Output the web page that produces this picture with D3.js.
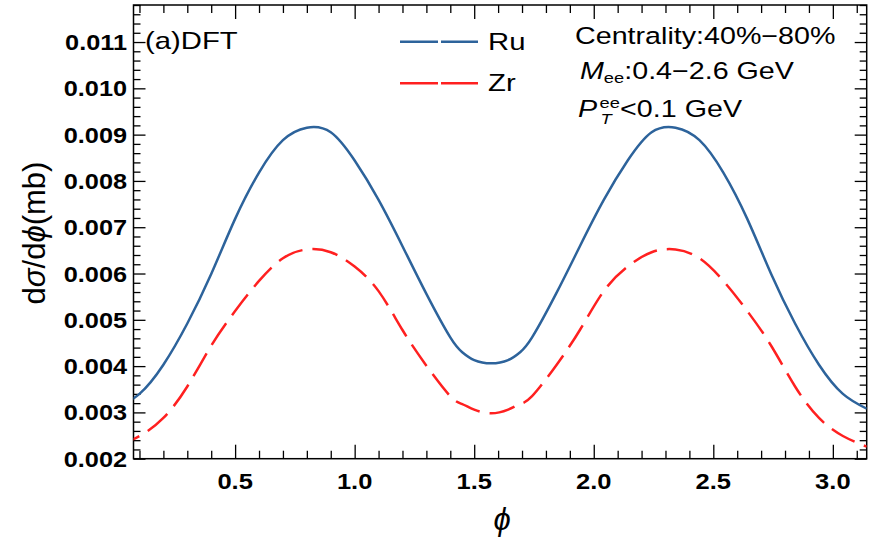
<!DOCTYPE html>
<html>
<head>
<meta charset="utf-8">
<title></title>
<style>
	body{ margin:0; background:#fff; }
	svg{ display:block; }
	.ticks line{ stroke:#000; stroke-width:1.3px; }
	.ticks path{ display:none; }
	.lbl{ font-family:"Liberation Sans", Arial, Helvetica, sans-serif; fill:#000; }
</style>
</head>
<body>
<svg width="877" height="541"></svg>
<script src="https://d3js.org/d3.v7.min.js"></script>
<script type="text/javascript">

	// values
	var phi = [0, 0.1, 0.2, 0.3, 0.4, 0.5, 0.6, 0.7, 0.8, 0.9, 1.0, 1.1, 1.2, 1.3, 1.4, 1.45, 1.5, 1.571,
		1.642, 1.692, 1.742, 1.842, 1.942, 2.042, 2.142, 2.242, 2.342, 2.442, 2.542, 2.642, 2.742,
		2.842, 2.942, 3.042, 3.142];
	var ru = [0.00308, 0.00340, 0.00403, 0.00492, 0.00599, 0.00718, 0.00818, 0.00888, 0.00915, 0.00905,
		0.00844, 0.00759, 0.00659, 0.00556, 0.00462, 0.00430, 0.00413, 0.00406,
		0.00413, 0.00430, 0.00462, 0.00556, 0.00659, 0.00759, 0.00844, 0.00905, 0.00915, 0.00888,
		0.00818, 0.00718, 0.00599, 0.00492, 0.00403, 0.00340, 0.00308];
	var zr = [0.00226, 0.00249, 0.00288, 0.00356, 0.00444, 0.00519, 0.00584, 0.00633, 0.00652, 0.00646,
		0.00615, 0.00562, 0.00478, 0.00401, 0.00335, 0.00318, 0.00306, 0.00298,
		0.00306, 0.00318, 0.00335, 0.00401, 0.00478, 0.00562, 0.00615, 0.00646, 0.00652, 0.00633,
		0.00584, 0.00519, 0.00444, 0.00356, 0.00288, 0.00249, 0.00226];
	var seriesNames = ["Ru", "Zr"];
	var xTicks = [0.5, 1.0, 1.5, 2.0, 2.5, 3.0];
	var yTicks = [0.002, 0.003, 0.004, 0.005, 0.006, 0.007, 0.008, 0.009, 0.010, 0.011];

	var svg = d3.select("svg");
	var plotL = 133.5, plotR = 866.7, plotT = 5, plotB = 458.7;
	var stretch = 1.22;

	var x = d3.scaleLinear().domain([0.075, Math.PI]).range([plotL, plotR]);
	var y = d3.scaleLinear().domain([0.002, 0.0118]).range([plotB, plotT]);

	var xMinor = d3.range(1, 32).map(function(i){ return i / 10; }).filter(function(v){ return Math.abs(v * 2 - Math.round(v * 2)) > 1e-6; });
	var yMinor = d3.range(10, 60).map(function(i){ return i / 5000; }).filter(function(v){ return Math.abs(v * 1000 - Math.round(v * 1000)) > 1e-6; });

	function ax(gen, tx, ty){
		svg.append("g").attr("class", "ticks").attr("transform", "translate(" + tx + "," + ty + ")").call(gen);
	}
	ax(d3.axisBottom(x).tickValues(xTicks).tickSize(-14).tickFormat(""), 0, plotB);
	ax(d3.axisBottom(x).tickValues(xMinor).tickSize(-8).tickFormat(""), 0, plotB);
	ax(d3.axisTop(x).tickValues(xTicks).tickSize(-14).tickFormat(""), 0, plotT);
	ax(d3.axisTop(x).tickValues(xMinor).tickSize(-8).tickFormat(""), 0, plotT);
	ax(d3.axisLeft(y).tickValues(yTicks).tickSize(-12).tickFormat(""), plotL, 0);
	ax(d3.axisLeft(y).tickValues(yMinor).tickSize(-7).tickFormat(""), plotL, 0);
	ax(d3.axisRight(y).tickValues(yTicks).tickSize(-12).tickFormat(""), plotR, 0);
	ax(d3.axisRight(y).tickValues(yMinor).tickSize(-7).tickFormat(""), plotR, 0);

	svg.append("rect")
		.attr("x", plotL).attr("y", plotT)
		.attr("width", plotR - plotL).attr("height", plotB - plotT)
		.attr("fill", "none").attr("stroke", "#000").attr("stroke-width", 1.5);

	// stretched text, like the source image
	function stext(px, py, anchor, size, weight, sx){
		return svg.append("text")
			.attr("class", "lbl")
			.attr("transform", "translate(" + px + "," + py + ") scale(" + (sx || stretch) + ",1)")
			.attr("text-anchor", anchor)
			.attr("font-size", size)
			.attr("font-weight", weight);
	}

	var fx = d3.format(".1f"), fy = d3.format(".3f");
	xTicks.forEach(function(v){ stext(x(v), 489, "middle", 22, "bold", 1.16).text(fx(v)); });
	yTicks.forEach(function(v){ stext(127, y(v) + 8, "end", 22, "bold", 1.15).text(fy(v)); });

	// curves
	svg.append("clipPath").attr("id", "clip").append("rect")
		.attr("x", plotL).attr("y", plotT).attr("width", plotR - plotL).attr("height", plotB - plotT);

	var colors = ["#2d639b", "#ff2020"];
	var dashes = [null, "26,10"];
	var values = [ru, zr];
	var line = d3.line()
		.x(function(d){ return x(d[0]); })
		.y(function(d){ return y(d[1]); })
		.curve(d3.curveNatural);

	values.forEach(function(vals, i){
		svg.append("path")
			.datum(phi.map(function(p, j){ return [p, vals[j]]; }))
			.attr("clip-path", "url(#clip)")
			.attr("d", line)
			.attr("fill", "none")
			.attr("stroke", colors[i])
			.attr("stroke-width", 2.5)
			.attr("stroke-dasharray", dashes[i]);
	});

	// legend
	seriesNames.forEach(function(name, i){
		var ly = 41.7 + i * 41.6;
		svg.append("line")
			.attr("x1", 400).attr("x2", 478).attr("y1", ly).attr("y2", ly)
			.attr("stroke", colors[i]).attr("stroke-width", 2.5)
			.attr("stroke-dasharray", "38,3");
		stext(488, ly + 8, "start", 24, "normal").text(name);
	});

	stext(145, 48.5, "start", 24, "normal").text("(a)DFT");
	stext(575, 43.5, "start", 23.5, "normal").text("Centrality:40%\u221280%");

	var m = stext(580, 78.5, "start", 23.5, "normal");
	m.append("tspan").attr("font-style", "italic").text("M");
	m.append("tspan").attr("font-size", 15).attr("dy", 4).text("ee");
	m.append("tspan").attr("dy", -4).text(":0.4\u22122.6 GeV");

	var p = stext(578, 117, "start", 23.5, "normal");
	p.append("tspan").attr("font-style", "italic").text("P");
	p.append("tspan").attr("font-size", 15).attr("dy", -9).attr("dx", 2).text("ee");
	p.append("tspan").attr("font-size", 15).attr("font-style", "italic").attr("dy", 16).attr("dx", -16).text("T");
	p.append("tspan").attr("dy", -7).attr("dx", 7).text("<0.1 GeV");

	// axis titles
	var yl = svg.append("text")
		.attr("class", "lbl")
		.attr("transform", "translate(45,233) rotate(-90)")
		.attr("text-anchor", "middle")
		.attr("font-size", 31);
	yl.append("tspan").text("d");
	yl.append("tspan").attr("font-style", "italic").text("\u03c3");
	yl.append("tspan").text("/d");
	yl.append("tspan").attr("font-style", "italic").text("\u03d5");
	yl.append("tspan").text("(mb)");

	svg.append("text")
		.attr("class", "lbl")
		.attr("x", 502).attr("y", 530)
		.attr("text-anchor", "middle")
		.attr("font-size", 31)
		.attr("font-style", "italic")
		.text("\u03d5");

</script>
</body>
</html>
